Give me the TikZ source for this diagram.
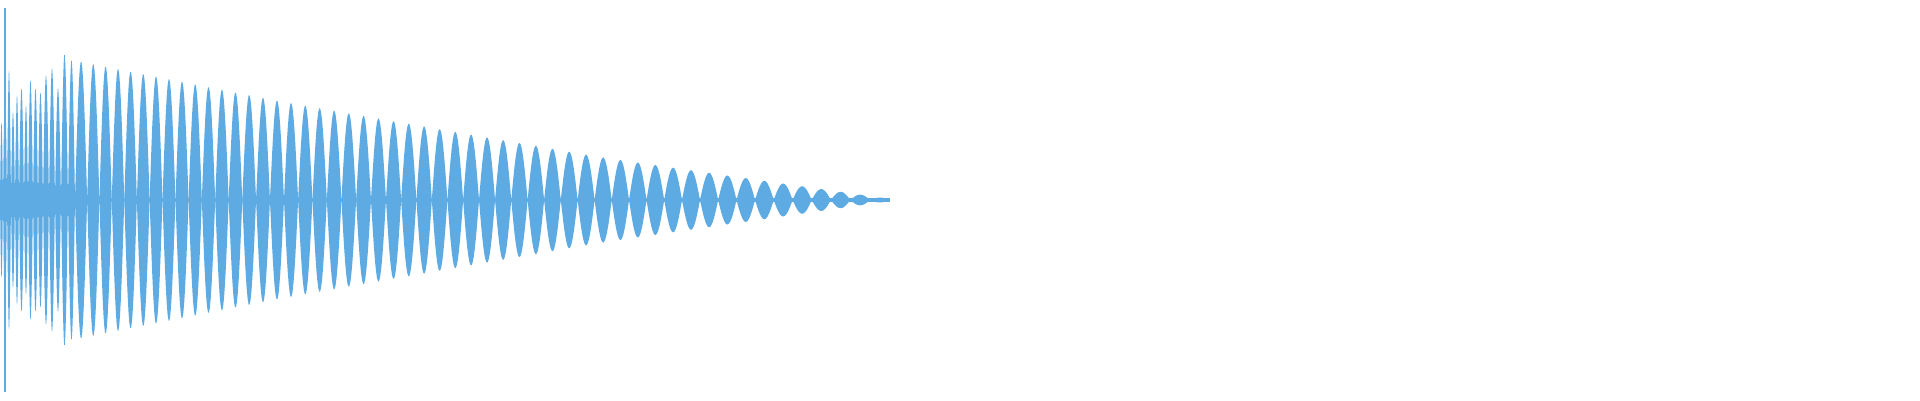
\documentclass[tikz,border=0pt]{standalone}
\definecolor{wave}{RGB}{93,171,226}
\begin{document}
\begin{tikzpicture}[x=1pt,y=1pt,lobe/.style={fill=wave,draw=none}]
\useasboundingbox (0,0) rectangle (1920,400);
\newcommand{\lobe}[3]{\fill[lobe] plot[domain=0:180,samples=16] ({#1+(#2-#1)*\x/180},{200+#3*sin(\x)}) -- plot[domain=180:0,samples=16] ({#1+(#2-#1)*\x/180},{200-#3*sin(\x)}) -- cycle;}
% early irregular region
\foreach \a/\b/\h in {0/3/78,3/7/110,7/11/130,11/15/88,15/19/105,19/24/112,24/28/95,28/33/120,33/38/112,38/43/108,43/49/125,49/55/132,55/61/112,61/68/146,68/75/140}{\lobe{\a}{\b}{\h}}
\fill[wave] (0,188) rectangle (40,212);
\fill[wave] (40,190) -- (100,196) -- (100,204) -- (40,210) -- cycle;
\fill[wave] (0,198) rectangle (890,202);
% decaying lobes
\foreach \i in {0,...,51}{
  \pgfmathsetmacro{\xa}{1259.6*pow(1.00964,\i)-1184.6}
  \pgfmathsetmacro{\xb}{1259.6*pow(1.00964,\i+1)-1184.6}
  \pgfmathsetmacro{\mm}{(\xa+\xb)/2}
  \pgfmathsetmacro{\amp}{max(0,max(140-0.2*(\mm-75),max(99-0.175*(\mm-280),43-0.1448*(\mm-600))))}
  \lobe{\xa}{\xb}{\amp}
}
\draw[wave,line width=1.5pt] (5,8) -- (5,392);
\end{tikzpicture}
\end{document}
